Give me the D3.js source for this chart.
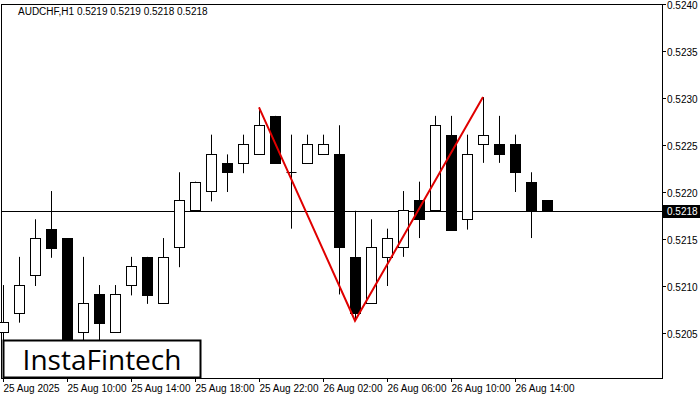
<!DOCTYPE html>
<html><head><meta charset="utf-8">
<script src="https://cdn.jsdelivr.net/npm/d3@7"></script>
<style>body{margin:0;background:#fff}svg{display:block}</style>
</head><body><svg id="c" width="700" height="400"></svg>
<script>
const opens  = [0.52051,0.52071,0.52112,0.52161,0.52151,0.52051,0.52091,0.52051,0.52101,0.52131,0.52082,0.52141,0.52181,0.52201,0.52231,0.52231,0.52240,0.52281,0.52221,0.52231,0.52240,0.52240,0.52131,0.52082,0.52131,0.52141,0.52191,0.52181,0.52261,0.52171,0.52251,0.52251,0.52251,0.52211,0.52191];
const closes = [0.52062,0.52101,0.52151,0.52140,0.52035,0.52082,0.52061,0.52091,0.52121,0.52090,0.52131,0.52191,0.52211,0.52240,0.52221,0.52251,0.52271,0.52231,0.52221,0.52251,0.52251,0.52141,0.52071,0.52141,0.52151,0.52181,0.52171,0.52271,0.52160,0.52240,0.52261,0.52240,0.52221,0.52181,0.52181];
const highs  = [0.52101,0.52131,0.52171,0.52201,0.52151,0.52131,0.52101,0.52101,0.52131,0.52131,0.52151,0.52221,0.52211,0.52261,0.52240,0.52261,0.52290,0.52281,0.52261,0.52261,0.52261,0.52271,0.52180,0.52171,0.52161,0.52201,0.52211,0.52281,0.52281,0.52261,0.52301,0.52281,0.52261,0.52221,0.52191];
const lows   = [0.52037,0.52061,0.52100,0.52130,0.52030,0.52040,0.52040,0.52051,0.52090,0.52081,0.52082,0.52120,0.52181,0.52190,0.52200,0.52220,0.52240,0.52231,0.52161,0.52231,0.52240,0.52091,0.52063,0.52082,0.52100,0.52131,0.52151,0.52181,0.52160,0.52160,0.52231,0.52231,0.52200,0.52151,0.52181];
const xLabels = [[0,"25 Aug 2025"],[4,"25 Aug 10:00"],[8,"25 Aug 14:00"],[12,"25 Aug 18:00"],[16,"25 Aug 22:00"],[20,"26 Aug 02:00"],[24,"26 Aug 06:00"],[28,"26 Aug 10:00"],[32,"26 Aug 14:00"]];
const yTicks = [0.5205,0.5210,0.5215,0.5220,0.5225,0.5230,0.5235,0.5240];
const pattern = [[16,0.52290],[22,0.52063],[30,0.52301]];
const lastPrice = 0.5218;

const svg = d3.select("#c");
const L=1,R=662,T=4,B=378;
const y = d3.scaleLinear().domain([0.5205,0.5240]).range([333,4]);
const x = d3.scaleLinear().domain([0,1]).range([3,19]);
const font="'Liberation Sans', Arial, sans-serif";

svg.append("rect").attr("x",L+0.5).attr("y",T+0.5).attr("width",R-L).attr("height",B-T).attr("fill","none").attr("stroke","#000");
const g = svg.append("g");
g.append("line").attr("x1",L).attr("x2",R).attr("y1",Math.round(y(lastPrice))+0.5).attr("y2",Math.round(y(lastPrice))+0.5).attr("stroke","#000");

opens.forEach((o,i)=>{
  const c=closes[i], cx=Math.round(x(i))+0.5;
  g.append("line").attr("x1",cx).attr("x2",cx).attr("y1",y(highs[i])).attr("y2",y(lows[i])).attr("stroke","#000");
  const top=Math.round(y(Math.max(o,c))), bot=Math.round(y(Math.min(o,c)));
  const bull=c>=o;
  if(bot-top<1){
    g.append("line").attr("x1",cx-5).attr("x2",cx+5).attr("y1",top+0.5).attr("y2",top+0.5).attr("stroke","#000");
  } else {
    g.append("rect").attr("x",cx-5).attr("y",top+0.5).attr("width",10).attr("height",bot-top)
     .attr("fill",bull?"#fff":"#000").attr("stroke","#000");
  }
});

g.append("path").attr("d",d3.line().x(d=>x(d[0])).y(d=>y(d[1]))(pattern)).attr("fill","none").attr("stroke","#e00000").attr("stroke-width",2);

yTicks.forEach(t=>{
  const yy=Math.round(y(t))+0.5;
  svg.append("line").attr("x1",R).attr("x2",R+4).attr("y1",yy).attr("y2",yy).attr("stroke","#000");
  svg.append("text").attr("x",667).attr("y",yy+4).attr("font-family",font).attr("font-size",10).attr("fill","#000").text(t.toFixed(4));
});
const ly=Math.round(y(lastPrice));
svg.append("rect").attr("x",663).attr("y",ly-6).attr("width",37).attr("height",13).attr("fill","#000");
svg.append("text").attr("x",667).attr("y",ly+4).attr("font-family",font).attr("font-size",10).attr("fill","#fff").text(lastPrice.toFixed(4));

xLabels.forEach(([i,s])=>{
  const xx=Math.round(x(i))+0.5;
  svg.append("line").attr("x1",xx).attr("x2",xx).attr("y1",B).attr("y2",B+4).attr("stroke","#000");
  svg.append("text").attr("x",xx).attr("y",392).attr("font-family",font).attr("font-size",10).attr("fill","#000").text(s);
});

svg.append("text").attr("x",18).attr("y",15).attr("font-family",font).attr("font-size",10).attr("fill","#000").text("AUDCHF,H1  0.5219 0.5219 0.5218 0.5218");

svg.append("rect").attr("x",3.5).attr("y",340.5).attr("width",197).attr("height",37).attr("fill","#fff").attr("stroke","#000").attr("stroke-width",2);
svg.append("text").attr("x",102).attr("y",370).attr("text-anchor","middle").attr("font-family","'Open Sans', sans-serif").attr("font-weight",500).attr("font-size",28).attr("fill","#000").text("InstaFintech");
</script></body></html>
